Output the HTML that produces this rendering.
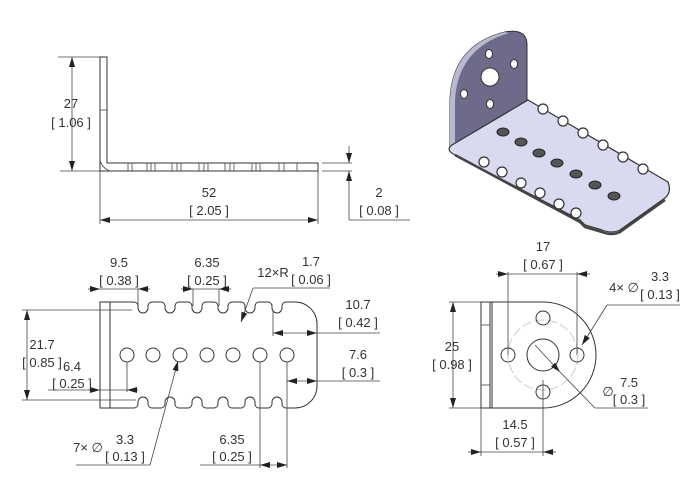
<!DOCTYPE html>
<html><head><meta charset="utf-8"><style>
html,body{margin:0;padding:0;background:#fff;}
svg{display:block;}
text{font-family:"Liberation Sans",sans-serif;font-size:13px;fill:#333;text-anchor:middle;}
.l{stroke:#333;stroke-width:1;fill:none;}
.t{stroke:#444;stroke-width:0.8;fill:none;}
</style></head><body>
<svg width="700" height="500" viewBox="0 0 700 500">
<defs>
<marker id="a" viewBox="0 0 10 6" refX="10" refY="3" markerWidth="10" markerHeight="6" orient="auto-start-reverse" markerUnits="userSpaceOnUse"><path d="M0,0L10,3L0,6z" fill="#222"/></marker>
</defs>

<!-- ===== Side view ===== -->
<path class="l" d="M100,57H107V163H318V171H100Z"/>
<line class="t" x1="100" y1="110" x2="107" y2="110"/>
<path class="t" d="M100,160 Q102,168 110,171"/>
<g class="t">
<line x1="128" y1="163" x2="128" y2="171"/><line x1="132" y1="163" x2="132" y2="171"/>
<line x1="147" y1="163" x2="147" y2="171"/><line x1="151" y1="163" x2="151" y2="171"/><line x1="155" y1="163" x2="155" y2="171"/>
<line x1="172" y1="163" x2="172" y2="171"/><line x1="177" y1="163" x2="177" y2="171"/><line x1="181" y1="163" x2="181" y2="171"/>
<line x1="199" y1="163" x2="199" y2="171"/><line x1="204" y1="163" x2="204" y2="171"/><line x1="208" y1="163" x2="208" y2="171"/>
<line x1="225" y1="163" x2="225" y2="171"/><line x1="230" y1="163" x2="230" y2="171"/><line x1="234" y1="163" x2="234" y2="171"/>
<line x1="252" y1="163" x2="252" y2="171"/><line x1="256" y1="163" x2="256" y2="171"/><line x1="260" y1="163" x2="260" y2="171"/>
<line x1="279" y1="163" x2="279" y2="171"/><line x1="284" y1="163" x2="284" y2="171"/><line x1="297" y1="163" x2="297" y2="171"/>
</g>
<g class="t">
<line x1="58" y1="57" x2="100" y2="57"/><line x1="60" y1="171" x2="100" y2="171"/>
<line x1="72" y1="57" x2="72" y2="171" marker-start="url(#a)" marker-end="url(#a)"/>
<line x1="100" y1="171" x2="100" y2="224"/><line x1="318" y1="171" x2="318" y2="224"/>
<line x1="100" y1="220" x2="318" y2="220" marker-start="url(#a)" marker-end="url(#a)"/>
<line x1="322" y1="163" x2="352" y2="163"/><line x1="322" y1="171" x2="352" y2="171"/>
<line x1="349" y1="146" x2="349" y2="163" marker-end="url(#a)"/>
<line x1="349" y1="220" x2="349" y2="171" marker-end="url(#a)"/>
<line x1="349" y1="220" x2="410" y2="220"/>
</g>
<text x="71" y="108">27</text><text x="71" y="127">[ 1.06 ]</text>
<text x="209" y="197">52</text><text x="209" y="215">[ 2.05 ]</text>
<text x="379" y="197">2</text><text x="379" y="215">[ 0.08 ]</text>

<!-- ===== Isometric ===== -->
<path d="M450,100 Q452,45 505,32 Q527,28 527,45 L527,104 L455,150 L450,146 Z" fill="#6e6a8a" stroke="#333" stroke-width="1"/>
<path d="M450,100 Q452,45 505,32 L509,33 Q458,48 455,100 L455,150 L450,146Z" fill="#b8b8d0"/>
<circle cx="490" cy="77" r="9" fill="#fff" stroke="#333"/>
<ellipse cx="489" cy="54" rx="3.5" ry="4.5" fill="#fff" stroke="#333"/>
<ellipse cx="514" cy="64" rx="3.5" ry="4.5" fill="#fff" stroke="#333"/>
<ellipse cx="464" cy="94" rx="3.5" ry="4.5" fill="#fff" stroke="#333"/>
<ellipse cx="490" cy="104" rx="3.5" ry="4.5" fill="#fff" stroke="#333"/>
<path d="M528,100 L668,182 Q672,192 665,198 L620,230 Q612,234 602,230 L585,225 L580,220 L455,155 Q445,150 452,145 Z" fill="#d9daf0" stroke="#333" stroke-width="1.2"/>
<path d="M455,155 L580,222 L585,227 L602,232 Q612,236 620,232 L665,200" fill="none" stroke="#444" stroke-width="2.5"/>
<g fill="#fff" stroke="#333" stroke-width="1.2">
<circle cx="543" cy="109" r="5"/><circle cx="563" cy="121" r="5"/><circle cx="583" cy="133" r="5"/><circle cx="603" cy="145" r="5"/><circle cx="623" cy="157" r="5"/><circle cx="643" cy="169" r="5"/>
<circle cx="484" cy="162" r="5"/><circle cx="502" cy="172" r="5"/><circle cx="521" cy="183" r="5"/><circle cx="540" cy="193" r="5"/><circle cx="559" cy="204" r="5"/><circle cx="576" cy="213" r="5"/>
</g>
<g fill="#555" stroke="#222">
<ellipse cx="503" cy="132" rx="6" ry="4"/><ellipse cx="521" cy="142" rx="6" ry="4"/><ellipse cx="539" cy="153" rx="6" ry="4"/><ellipse cx="557" cy="163" rx="6" ry="4"/><ellipse cx="576" cy="174" rx="6" ry="4"/><ellipse cx="595" cy="185" rx="6" ry="4"/><ellipse cx="614" cy="196" rx="6" ry="4"/>
</g>

<!-- ===== Front view ===== -->
<path class="l" d="M100,302 H134 a4,4 0 0 1 4,4 v2 a5,5 0 0 0 10,0 v-2 a4,4 0 0 1 4,-4
H161 a4,4 0 0 1 4,4 v2 a5,5 0 0 0 10,0 v-2 a4,4 0 0 1 4,-4
H188 a4,4 0 0 1 4,4 v2 a5,5 0 0 0 10,0 v-2 a4,4 0 0 1 4,-4
H214 a4,4 0 0 1 4,4 v2 a5,5 0 0 0 10,0 v-2 a4,4 0 0 1 4,-4
H241 a4,4 0 0 1 4,4 v2 a5,5 0 0 0 10,0 v-2 a4,4 0 0 1 4,-4
H268 a4,4 0 0 1 4,4 v2 a5,5 0 0 0 10,0 v-2 a4,4 0 0 1 4,-4
H295 A22,22 0 0 1 317,324 V386 A22,22 0 0 1 295,408
H286 a4,4 0 0 1 -4,-4 v-2 a5,5 0 0 0 -10,0 v2 a4,4 0 0 1 -4,4
H259 a4,4 0 0 1 -4,-4 v-2 a5,5 0 0 0 -10,0 v2 a4,4 0 0 1 -4,4
H232 a4,4 0 0 1 -4,-4 v-2 a5,5 0 0 0 -10,0 v2 a4,4 0 0 1 -4,4
H206 a4,4 0 0 1 -4,-4 v-2 a5,5 0 0 0 -10,0 v2 a4,4 0 0 1 -4,4
H179 a4,4 0 0 1 -4,-4 v-2 a5,5 0 0 0 -10,0 v2 a4,4 0 0 1 -4,4
H152 a4,4 0 0 1 -4,-4 v-2 a5,5 0 0 0 -10,0 v2 a4,4 0 0 1 -4,4
H100Z"/>
<line class="l" x1="110" y1="302" x2="110" y2="408"/>
<g class="l">
<circle cx="127" cy="355" r="7"/><circle cx="153" cy="355" r="7"/><circle cx="180" cy="355" r="7"/><circle cx="207" cy="355" r="7"/><circle cx="233" cy="355" r="7"/><circle cx="260" cy="355" r="7"/><circle cx="287" cy="355" r="7"/>
</g>
<g class="t">
<line x1="138" y1="289" x2="138" y2="306"/>
<line x1="88" y1="289" x2="100" y2="289" marker-end="url(#a)"/>
<line x1="150" y1="289" x2="138" y2="289" marker-end="url(#a)"/>
<line x1="100" y1="289" x2="138" y2="289"/>
<line x1="193" y1="289" x2="193" y2="306"/><line x1="219" y1="289" x2="219" y2="306"/>
<line x1="181" y1="289" x2="193" y2="289" marker-end="url(#a)"/>
<line x1="231" y1="289" x2="219" y2="289" marker-end="url(#a)"/>
<line x1="193" y1="289" x2="219" y2="289"/>
<line x1="330" y1="288" x2="253" y2="288"/>
<line x1="253" y1="288" x2="241" y2="322" marker-end="url(#a)"/>
<line x1="273" y1="310" x2="273" y2="336"/>
<line x1="273" y1="333" x2="317" y2="333" marker-start="url(#a)" marker-end="url(#a)"/>
<line x1="317" y1="333" x2="380" y2="333"/>
<line x1="287" y1="362" x2="287" y2="468"/><line x1="260" y1="362" x2="260" y2="468"/>
<line x1="287" y1="381" x2="317" y2="381" marker-start="url(#a)" marker-end="url(#a)"/>
<line x1="317" y1="381" x2="380" y2="381"/>
<line x1="22" y1="310" x2="132" y2="310"/><line x1="22" y1="400" x2="136" y2="400"/>
<line x1="27" y1="310" x2="27" y2="400" marker-start="url(#a)" marker-end="url(#a)"/>
<line x1="127" y1="362" x2="127" y2="392"/>
<line x1="48" y1="390" x2="100" y2="390" marker-end="url(#a)"/>
<line x1="138" y1="390" x2="127" y2="390" marker-end="url(#a)"/>
<line x1="100" y1="390" x2="127" y2="390"/>
<line x1="76" y1="465" x2="150" y2="465"/>
<line x1="150" y1="465" x2="178" y2="361" marker-end="url(#a)"/>
<line x1="200" y1="465" x2="260" y2="465"/>
<line x1="260" y1="465" x2="287" y2="465" marker-start="url(#a)" marker-end="url(#a)"/>
</g>
<text x="119" y="267">9.5</text><text x="119" y="285">[ 0.38 ]</text>
<text x="207" y="267">6.35</text><text x="207" y="285">[ 0.25 ]</text>
<text x="273" y="277">12×R</text><text x="311" y="266">1.7</text><text x="311" y="284">[ 0.06 ]</text>
<text x="358" y="309">10.7</text><text x="358" y="327">[ 0.42 ]</text>
<text x="358" y="359">7.6</text><text x="358" y="377">[ 0.3 ]</text>
<text x="42" y="349">21.7</text><text x="42" y="367">[ 0.85 ]</text>
<text x="72" y="371">6.4</text><text x="72" y="388">[ 0.25 ]</text>
<text x="88" y="452">7× ∅</text><text x="125" y="444">3.3</text><text x="125" y="461">[ 0.13 ]</text>
<text x="232" y="444">6.35</text><text x="232" y="461">[ 0.25 ]</text>

<!-- ===== Right view ===== -->
<path class="l" d="M481,302 H543 A53,53 0 0 1 543,408 H481Z"/>
<line class="l" x1="490" y1="302" x2="490" y2="408"/>
<line class="l" x1="492" y1="302" x2="492" y2="408"/>
<line class="t" x1="481" y1="325" x2="490" y2="325"/><line class="t" x1="481" y1="385" x2="490" y2="385"/>
<circle cx="543" cy="355" r="35" fill="none" stroke="#ccc" stroke-width="1" stroke-dasharray="10,3"/>
<g class="l">
<circle cx="543" cy="355" r="16"/>
<circle cx="508" cy="355" r="7"/><circle cx="577" cy="355" r="7"/><circle cx="543" cy="318" r="7"/><circle cx="543" cy="392" r="7"/>
</g>
<g class="t">
<line x1="508" y1="272" x2="508" y2="355"/><line x1="577" y1="272" x2="577" y2="355"/>
<line x1="496" y1="274" x2="508" y2="274" marker-end="url(#a)"/>
<line x1="590" y1="274" x2="577" y2="274" marker-end="url(#a)"/>
<line x1="508" y1="274" x2="577" y2="274"/>
<line x1="680" y1="305" x2="607" y2="305"/>
<line x1="607" y1="305" x2="582" y2="345" marker-end="url(#a)"/>
<line x1="449" y1="302" x2="481" y2="302"/><line x1="449" y1="408" x2="481" y2="408"/>
<line x1="453" y1="302" x2="453" y2="408" marker-start="url(#a)" marker-end="url(#a)"/>
<line x1="535" y1="345" x2="560" y2="372" marker-end="url(#a)"/>
<line x1="560" y1="372" x2="595" y2="408"/>
<line x1="595" y1="408" x2="648" y2="408"/>
<line x1="543" y1="380" x2="543" y2="456"/><line x1="481" y1="408" x2="481" y2="456"/>
<line x1="468" y1="452" x2="481" y2="452" marker-end="url(#a)"/>
<line x1="556" y1="452" x2="543" y2="452" marker-end="url(#a)"/>
<line x1="481" y1="452" x2="543" y2="452"/>
</g>
<text x="543" y="251">17</text><text x="543" y="269">[ 0.67 ]</text>
<text x="624" y="292">4× ∅</text><text x="660" y="281">3.3</text><text x="660" y="299">[ 0.13 ]</text>
<text x="452" y="351">25</text><text x="452" y="369">[ 0.98 ]</text>
<text x="608" y="396">∅</text><text x="629" y="387">7.5</text><text x="629" y="404">[ 0.3 ]</text>
<text x="515" y="429">14.5</text><text x="515" y="447">[ 0.57 ]</text>
</svg>
</body></html>
